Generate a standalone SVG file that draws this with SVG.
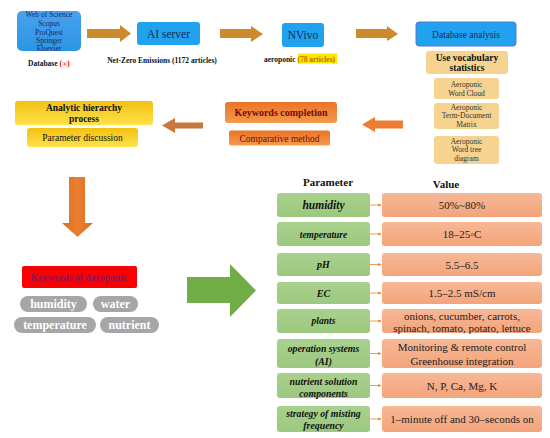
<svg xmlns="http://www.w3.org/2000/svg" width="550" height="438" viewBox="0 0 550 438" font-family="'Liberation Serif', 'DejaVu Serif', serif">
<defs>
<linearGradient id="gYel" x1="0" y1="0" x2="0" y2="1"><stop offset="0" stop-color="#f3c012"/><stop offset="1" stop-color="#ffe24a"/></linearGradient>
<linearGradient id="gOr" x1="0" y1="0" x2="0" y2="1"><stop offset="0" stop-color="#e9742a"/><stop offset="1" stop-color="#f39a4a"/></linearGradient>
<linearGradient id="gGr" x1="0" y1="0" x2="0" y2="1"><stop offset="0" stop-color="#a9d18e"/><stop offset="1" stop-color="#9cc87e"/></linearGradient>
<linearGradient id="gSal" x1="0" y1="0" x2="0" y2="1"><stop offset="0" stop-color="#f7b896"/><stop offset="1" stop-color="#f3a47a"/></linearGradient>
<linearGradient id="gDown" x1="0" y1="0" x2="1" y2="0"><stop offset="0" stop-color="#c9752e"/><stop offset="0.5" stop-color="#f07d2c"/><stop offset="1" stop-color="#c9752e"/></linearGradient>
<linearGradient id="gBlue" x1="0" y1="0" x2="0" y2="1"><stop offset="0" stop-color="#4aa0ec"/><stop offset="1" stop-color="#2a96e6"/></linearGradient>
<marker id="sm" markerWidth="4" markerHeight="4" refX="3.5" refY="2" orient="auto"><path d="M0,0 L4,2 L0,4 Z" fill="#f08030"/></marker>
</defs>
<style>
.blue{fill:url(#gBlue);}
.tan{fill:#f6d38e;}
.yel{fill:url(#gYel);}
.org{fill:url(#gOr);}
.grn{fill:url(#gGr);}
.sal{fill:url(#gSal);}
.pill{fill:#a6a6a6;}
.pt{font-size:12px;font-weight:bold;fill:#fff;text-anchor:middle;}
.c{text-anchor:middle;}
.gt{font-weight:bold;font-style:italic;text-anchor:middle;fill:#111;}
.vt{font-size:11px;text-anchor:middle;fill:#222;}
.ta{fill:#333;font-size:7.5px;text-anchor:middle;}
.con{stroke:#f08030;stroke-width:0.8;fill:none;marker-end:url(#sm);}
</style>
<rect width="550" height="438" fill="#fff"/>

<g id="database">
<rect x="17" y="11" width="64" height="40" rx="5" class="blue"/>
<text class="c" font-size="7.5" fill="#1a2a66"><tspan x="49" y="17">Web of Science</tspan><tspan x="49" y="26">Scopus</tspan><tspan x="49" y="34.5">ProQuest</tspan><tspan x="49" y="43">Springer</tspan><tspan x="49" y="51">Elsevier</tspan></text>
<text x="28" y="65.5" font-size="7.5" font-weight="bold" fill="#111">Database <tspan fill="#e00000">(∞)</tspan></text>
</g>

<g id="aiserver">
<rect x="137" y="22" width="63" height="23" rx="3" fill="#20a2ef"/>
<text x="168.5" y="37.5" class="c" font-size="11.5" fill="#1a2a55">AI server</text>
<text x="162" y="62.5" class="c" font-size="7.5" font-weight="bold" fill="#111">Net-Zero Emissions (1172 articles)</text>
</g>

<g id="nvivo">
<rect x="282" y="23" width="42" height="24" rx="3" fill="#20a2ef"/>
<text x="303" y="39" class="c" font-size="11.5" fill="#1a2a55">NVivo</text>
<rect x="298" y="53.5" width="39" height="10" fill="#ffe600"/>
<text x="264" y="61.5" font-size="7.5" font-weight="bold" fill="#111">aeroponic <tspan fill="#c07000">(78 articles)</tspan></text>
</g>

<g id="dbanalysis">
<rect x="416" y="22" width="100" height="24" rx="3" fill="#20a2ef" stroke="#5b74d6" stroke-width="1"/>
<text x="466" y="37.5" class="c" font-size="9.5" fill="#1a2a55">Database analysis</text>
</g>

<g id="vocab">
<rect x="426" y="51" width="82" height="23" rx="3" class="tan"/>
<text class="c" font-size="9.5" font-weight="bold" fill="#111"><tspan x="467" y="60.5">Use vocabulary</tspan><tspan x="467" y="71">statistics</tspan></text>
</g>
<g id="wordcloud">
<rect x="434" y="78" width="65" height="21" rx="3" class="tan"/>
<text class="ta"><tspan x="466.5" y="87">Aeroponic</tspan><tspan x="466.5" y="96">Word Cloud</tspan></text>
</g>
<g id="termdoc">
<rect x="434" y="103" width="65" height="26" rx="3" class="tan"/>
<text class="ta"><tspan x="466.5" y="110">Aeroponic</tspan><tspan x="466.5" y="118">Term-Document</tspan><tspan x="466.5" y="126.5">Matrix</tspan></text>
</g>
<g id="wordtree">
<rect x="434" y="136" width="65" height="28" rx="3" class="tan"/>
<text class="ta"><tspan x="466.5" y="143.5">Aeroponic</tspan><tspan x="466.5" y="152">Word tree</tspan><tspan x="466.5" y="160.5">diagram</tspan></text>
</g>

<g id="keywordscompletion">
<rect x="225" y="102" width="112" height="21" rx="3" class="org"/>
<text x="281" y="116" class="c" font-size="10" font-weight="bold" fill="#7a0a0a">Keywords completion</text>
</g>
<g id="comparative">
<rect x="229" y="130.5" width="101" height="15" rx="2" class="org"/>
<text x="279.5" y="141.5" class="c" font-size="9.5" fill="#7a0a0a">Comparative method</text>
</g>

<g id="ahp">
<rect x="15" y="101" width="138" height="24" rx="3" class="yel"/>
<text class="c" font-size="9.5" font-weight="bold" fill="#111"><tspan x="84" y="111">Analytic hierarchy</tspan><tspan x="84" y="122">process</tspan></text>
</g>
<g id="paramdisc">
<rect x="27" y="128" width="111" height="19" rx="3" class="yel"/>
<text x="82.5" y="141" class="c" font-size="9.5" fill="#111">Parameter discussion</text>
</g>

<g id="keywordsaero">
<rect x="22" y="266" width="115" height="22" rx="2" fill="#fa0000"/>
<text x="79" y="280.5" class="c" font-size="9.6" font-weight="bold" fill="#8a1a55">Keywords of Aeroponic</text>
<rect x="20" y="296" width="67" height="16" rx="8" class="pill"/>
<text x="53.5" y="307.5" class="pt">humidity</text>
<rect x="93" y="296" width="45" height="16" rx="8" class="pill"/>
<text x="115.5" y="307.5" class="pt">water</text>
<rect x="14" y="317" width="82" height="16" rx="8" class="pill"/>
<text x="55" y="328.5" class="pt">temperature</text>
<rect x="100" y="317" width="59" height="16" rx="8" class="pill"/>
<text x="129.5" y="328.5" class="pt">nutrient</text>
</g>

<g id="table">
<text x="328" y="186" class="c" font-size="11" font-weight="bold" fill="#111">Parameter</text>
<text x="446" y="188" class="c" font-size="11" font-weight="bold" fill="#111">Value</text>

<rect x="277" y="193" width="93" height="24" rx="3" class="grn"/>
<text x="323.5" y="209" class="gt" font-size="11.5">humidity</text>
<rect x="382" y="193" width="160" height="24" rx="3" class="sal"/>
<text x="462" y="209" class="vt">50%~80%</text>

<rect x="277" y="222" width="93" height="24" rx="3" class="grn"/>
<text x="323.5" y="237.5" class="gt" font-size="9.5">temperature</text>
<rect x="382" y="222" width="160" height="24" rx="3" class="sal"/>
<text x="462" y="238" class="vt">18–25◦C</text>

<rect x="277" y="253" width="93" height="23" rx="3" class="grn"/>
<text x="323.5" y="268" class="gt" font-size="10">pH</text>
<rect x="382" y="253" width="160" height="23" rx="3" class="sal"/>
<text x="462" y="268.5" class="vt">5.5–6.5</text>

<rect x="277" y="282" width="93" height="22" rx="3" class="grn"/>
<text x="323.5" y="297" class="gt" font-size="10">EC</text>
<rect x="382" y="282" width="160" height="22" rx="3" class="sal"/>
<text x="462" y="297" class="vt">1.5–2.5 mS/cm</text>

<rect x="277" y="309" width="93" height="24" rx="3" class="grn"/>
<text x="323.5" y="324" class="gt" font-size="9.5">plants</text>
<rect x="382" y="309" width="160" height="24" rx="3" class="sal"/>
<text class="vt" font-size="10.5"><tspan x="462" y="320">onions, cucumber, carrots,</tspan><tspan x="462" y="331.5">spinach, tomato, potato, lettuce</tspan></text>

<rect x="277" y="339" width="93" height="29" rx="3" class="grn"/>
<text class="gt" font-size="9.8"><tspan x="323.5" y="351.5">operation systems</tspan><tspan x="323.5" y="364.5">(AI)</tspan></text>
<rect x="382" y="339" width="160" height="29" rx="3" class="sal"/>
<text class="vt" font-size="11"><tspan x="462" y="351">Monitoring &amp; remote control</tspan><tspan x="462" y="364.5">Greenhouse integration</tspan></text>

<rect x="277" y="373" width="93" height="25" rx="3" class="grn"/>
<text class="gt" font-size="9.8"><tspan x="323.5" y="384.5">nutrient solution</tspan><tspan x="323.5" y="396.5">components</tspan></text>
<rect x="382" y="373" width="160" height="25" rx="3" class="sal"/>
<text x="462" y="390" class="vt">N, P, Ca, Mg, K</text>

<rect x="277" y="406" width="93" height="26" rx="3" class="grn"/>
<text class="gt" font-size="9.8"><tspan x="323.5" y="416.5">strategy of misting</tspan><tspan x="323.5" y="428.5">frequency</tspan></text>
<rect x="382" y="406" width="160" height="26" rx="3" class="sal"/>
<text x="462" y="423" class="vt">1–minute off and 30–seconds on</text>
</g>

<g id="connectors">
<path d="M87,29 H120 V25 L131,33.5 L120,42 V38 H87 Z" fill="#cc8a2c"/>
<path d="M220,29 H251 V26 L263,34 L251,42 V38 H220 Z" fill="#cc8a2c"/>
<path d="M356,29 H387 V26 L398,34 L387,41 V38 H356 Z" fill="#cc8a2c"/>
<path d="M403,120.5 H375 V117 L362,124.5 L375,132 V128.5 H403 Z" fill="#ed7d31"/>
<path d="M203,122.5 H175 V118 L162,125.5 L175,133 V128.5 H203 Z" fill="#c8783a"/>
<path d="M69,177 H85 V223 H93 L77.5,237 L62,223 H69 Z" fill="url(#gDown)"/>
<path d="M187,277 H230 V264 L256,290.5 L230,317 V303 H187 Z" fill="#70ad47"/>
<line x1="370" y1="205" x2="381" y2="205" class="con"/>
<line x1="370" y1="234" x2="381" y2="234" class="con"/>
<line x1="370" y1="264.5" x2="381" y2="264.5" class="con"/>
<line x1="370" y1="293" x2="381" y2="293" class="con"/>
<line x1="370" y1="321" x2="381" y2="321" class="con"/>
<line x1="370" y1="353.5" x2="381" y2="353.5" class="con"/>
<line x1="370" y1="385.5" x2="381" y2="385.5" class="con"/>
<line x1="370" y1="419" x2="381" y2="419" class="con"/>
</g>
</svg>
